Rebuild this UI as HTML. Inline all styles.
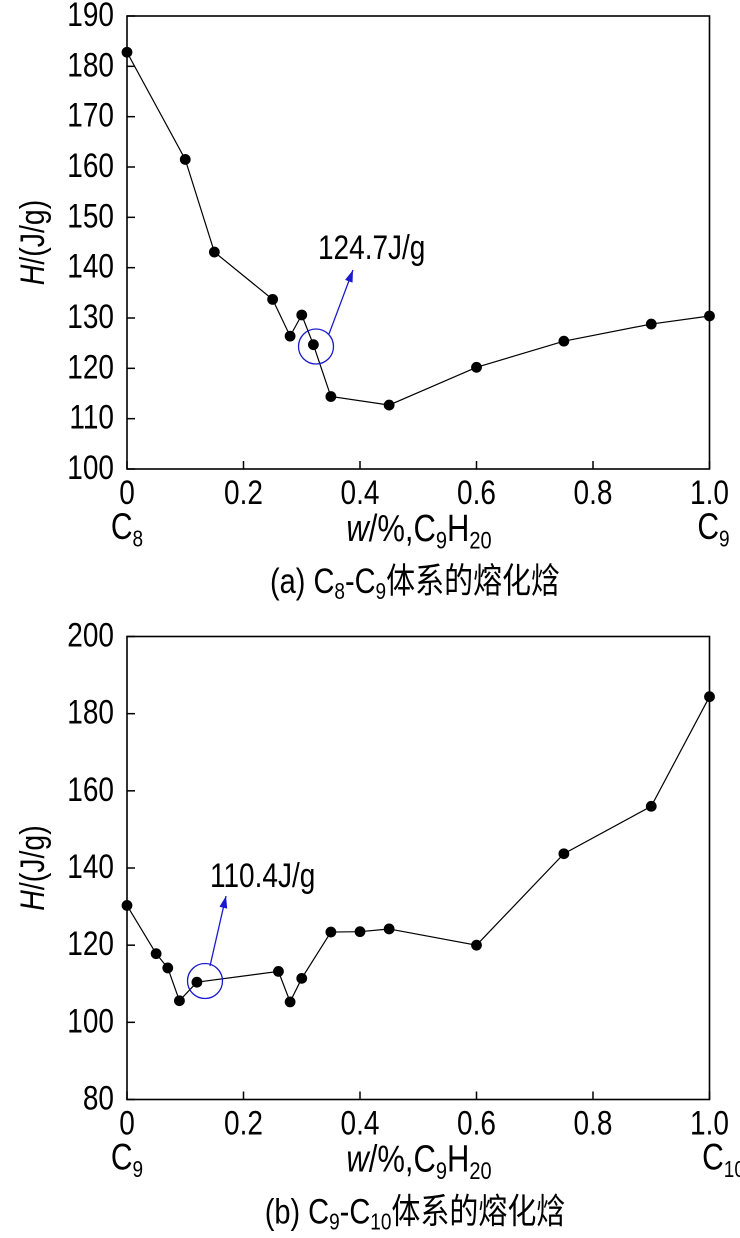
<!DOCTYPE html>
<html><head><meta charset="utf-8"><style>
html,body{margin:0;padding:0;background:#fff;}
svg{display:block;font-family:"Liberation Sans","Noto Sans CJK SC",sans-serif;}
</style></head><body>
<svg id="svg" width="740" height="1238" viewBox="0 0 740 1238"></svg>
<script>
const xTicks=[0,0.2,0.4,0.6,0.8,1.0];
const xTickLabels=["0","0.2","0.4","0.6","0.8","1.0"];
const aX=[0,0.1,0.15,0.25,0.28,0.30,0.32,0.35,0.45,0.6,0.75,0.9,1.0];
const aY=[182.8,161.5,143.1,133.7,126.4,130.6,124.7,114.4,112.7,120.2,125.4,128.8,130.4];
const aYTicks=[100,110,120,130,140,150,160,170,180,190];
const bX=[0,0.05,0.07,0.09,0.12,0.26,0.28,0.30,0.35,0.40,0.45,0.6,0.75,0.9,1.0];
const bY=[130.3,117.8,114.1,105.6,110.4,113.2,105.3,111.4,123.4,123.5,124.2,120,143.7,156,184.4];
const bYTicks=[80,100,120,140,160,180,200];
const NS="http://www.w3.org/2000/svg";
const svg=document.getElementById('svg');
const SY=1.22;
function mk(tag,attrs,parent,text){const e=document.createElementNS(NS,tag);for(const k in attrs)e.setAttribute(k,attrs[k]);if(text!==undefined)e.textContent=text;(parent||svg).appendChild(e);return e;}
function tx(attrs,parent,text){const y=attrs.y;attrs.transform=`matrix(1,0,0,${SY},0,${-(SY-1)*y})`;return mk('text',attrs,parent,text);}
function chart(o){
  const g=mk('g',{});
  
  
  const L=127,R=709.5,T=o.top,B=o.bot;
  const sx=v=>L+v*(R-L);
  const sy=v=>B-(v-o.ymin)/(o.ymax-o.ymin)*(B-T);
  const frame=mk('rect',{x:L,y:T,width:R-L,height:B-T,fill:'none',stroke:'#000','stroke-width':1.6},g);
  
  
  o.yt.forEach(v=>{
    const t=mk('line',{x1:L,x2:L+8,y1:sy(v),y2:sy(v),stroke:'#000','stroke-width':1.5},g);
    
    
    const l=tx({x:114,y:sy(v)+10,'text-anchor':'end','font-size':28},g,String(v));
    
    
  });
  xTicks.forEach((v,i)=>{
    const t=mk('line',{x1:sx(v),x2:sx(v),y1:B,y2:B-8,stroke:'#000','stroke-width':1.5},g);
    
    
    const l=tx({x:sx(v),y:B+35,'text-anchor':'middle','font-size':28},g,xTickLabels[i]);
    
    
  });
  const pts=o.xs.map((x,i)=>sx(x)+','+sy(o.ys[i])).join(' ');
  const pl=mk('polyline',{points:pts,fill:'none',stroke:'#000','stroke-width':1.2},g);
  
  
  o.xs.forEach((x,i)=>{
    const c=mk('circle',{cx:sx(x),cy:sy(o.ys[i]),r:5.4,fill:'#000'},g);
    
    
  });
  const ci=mk('circle',{cx:o.cx,cy:o.cy,r:17.5,fill:'none',stroke:'#1a1acc','stroke-width':1.3},g);
  
  
  const ar=mk('line',{x1:o.a1[0],y1:o.a1[1],x2:o.a2[0],y2:o.a2[1],stroke:'#1a1acc','stroke-width':1.3},g);
  
  
  const dx=o.a2[0]-o.a1[0],dy=o.a2[1]-o.a1[1],len=Math.hypot(dx,dy),ux=dx/len,uy=dy/len;
  const hx=o.a2[0],hy=o.a2[1],bx=hx-ux*12,by=hy-uy*12;
  const ah=mk('polygon',{points:`${hx},${hy} ${bx-uy*4},${by+ux*4} ${bx+uy*4},${by-ux*4}`,fill:'#1a1acc'},g);
  
  
  const an=tx({x:o.lx,y:o.ly,'font-size':28},g,o.label);
  
  
  const yt=mk('text',{x:0,y:0,'font-size':30,'text-anchor':'middle',transform:`translate(44,${(T+B)/2}) rotate(-90) scale(0.95,1.15)`},g);
  
  
  mk('tspan',{'font-style':'italic'},yt,'H');
  mk('tspan',{},yt,'/(J/g)');
  const c1=tx({x:L,y:B+70,'text-anchor':'middle','font-size':30},g);
  
  
  mk('tspan',{},c1,'C');mk('tspan',{'font-size':19,dy:6},c1,o.left);
  const c2=tx({x:o.right.length>1?R+14:R+4,y:B+70,'text-anchor':'middle','font-size':30},g);
  
  
  mk('tspan',{},c2,'C');mk('tspan',{'font-size':19,dy:6},c2,o.right);
  const xt=tx({x:419,y:B+72,'text-anchor':'middle','font-size':31},g);
  
  
  mk('tspan',{'font-style':'italic'},xt,'w');mk('tspan',{},xt,'/%,C');
  mk('tspan',{'font-size':20,dy:6},xt,'9');mk('tspan',{dy:-6},xt,'H');mk('tspan',{'font-size':20,dy:6},xt,'20');
  const cap=tx({x:415,y:B+124,'text-anchor':'middle','font-size':29},g);
  
  
  mk('tspan',{},cap,o.capA);mk('tspan',{'font-size':19,dy:5},cap,o.s1);mk('tspan',{dy:-5},cap,'-C');
  mk('tspan',{'font-size':19,dy:5},cap,o.s2);mk('tspan',{dy:-5},cap,'体系的熔化焓');
}
chart({name:'chart-a',top:16,bot:469,ymin:100,ymax:190,yt:aYTicks,xs:aX,ys:aY,cx:316,cy:346.5,a1:[329,334],a2:[353,270],lx:318,ly:259,label:'124.7J/g',left:'8',right:'9',capA:'(a) C',s1:'8',s2:'9'});
chart({name:'chart-b',top:636.5,bot:1099.5,ymin:80,ymax:200,yt:bYTicks,xs:bX,ys:bY,cx:205,cy:981,a1:[210,966],a2:[226,896],lx:210,ly:887,label:'110.4J/g',left:'9',right:'10',capA:'(b) C',s1:'9',s2:'10'});
</script>
</body></html>
